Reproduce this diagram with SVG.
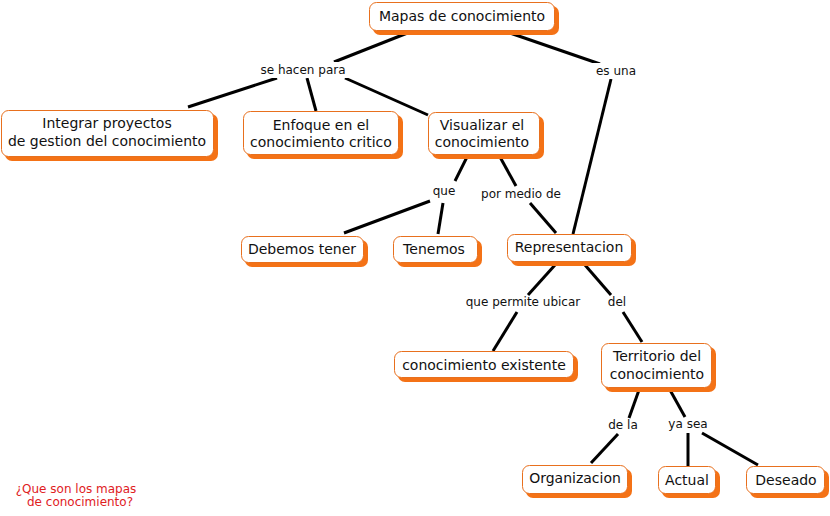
<svg xmlns="http://www.w3.org/2000/svg" width="830" height="516" viewBox="0 0 830 516">
<style>
.sh{fill:#f47216;}
.bx{fill:#fff;stroke:#e8701e;stroke-width:1;}
.t{font-family:Verdana,"DejaVu Sans",sans-serif;font-size:14px;fill:#111;text-anchor:middle;}
.l{font-family:Verdana,"DejaVu Sans",sans-serif;font-size:12px;fill:#111;text-anchor:middle;}
.c line{stroke:#000;stroke-width:3;}
.r{font-family:Verdana,"DejaVu Sans",sans-serif;font-size:12px;fill:#e0201e;text-anchor:middle;}
</style>
<rect width="830" height="516" fill="#fff"/>
<g class="c" id="connectors">
<line x1="410" y1="32" x2="334" y2="62"/>
<line x1="277" y1="78" x2="188" y2="107"/>
<line x1="307" y1="78" x2="316" y2="111"/>
<line x1="345" y1="78" x2="428" y2="115"/>
<line x1="510" y1="33" x2="600" y2="64"/>
<line x1="611" y1="79" x2="573" y2="234"/>
<line x1="467" y1="157" x2="455" y2="181"/>
<line x1="430" y1="201" x2="344" y2="233"/>
<line x1="443" y1="203" x2="438" y2="234"/>
<line x1="500" y1="157" x2="516" y2="186"/>
<line x1="530" y1="203" x2="556" y2="233"/>
<line x1="555" y1="265" x2="528" y2="295"/>
<line x1="517" y1="312" x2="493" y2="351"/>
<line x1="585" y1="265" x2="611" y2="295"/>
<line x1="623" y1="312" x2="642" y2="342"/>
<line x1="639" y1="390" x2="629" y2="418"/>
<line x1="618" y1="434" x2="591" y2="463"/>
<line x1="670" y1="390" x2="685" y2="417"/>
<line x1="688" y1="433" x2="688" y2="466"/>
<line x1="702" y1="433" x2="758" y2="465"/>
</g>
<g id="labels">
<rect x="254" y="62" width="98" height="16" fill="#fff"/>
<text class="l" x="303" y="74">se hacen para</text>
<rect x="590" y="63" width="52" height="16" fill="#fff"/>
<text class="l" x="616" y="75">es una</text>
<text class="l" x="444" y="195">que</text>
<text class="l" x="521" y="198">por medio de</text>
<text class="l" x="523" y="306">que permite ubicar</text>
<text class="l" x="617" y="306">del</text>
<text class="l" x="623" y="429">de la</text>
<text class="l" x="688" y="428">ya sea</text>
</g>
<g id="n1"><rect class="sh" x="373" y="6" width="186" height="29" rx="7"/><rect class="bx" x="369.5" y="2.5" width="185" height="28" rx="7"/><text class="t" x="462" y="21">Mapas de conocimiento</text></g>
<g id="n2"><rect class="sh" x="5" y="114" width="213" height="47" rx="7"/><rect class="bx" x="1.5" y="110.5" width="212" height="46" rx="7"/><text class="t" x="107" y="128">Integrar proyectos</text><text class="t" x="107" y="146">de gestion del conocimiento</text></g>
<g id="n3"><rect class="sh" x="247" y="115" width="156" height="44" rx="7"/><rect class="bx" x="243.5" y="111.5" width="155" height="43" rx="7"/><text class="t" x="321" y="130">Enfoque en el</text><text class="t" x="321" y="147">conocimiento critico</text></g>
<g id="n4"><rect class="sh" x="432" y="116" width="112" height="43" rx="7"/><rect class="bx" x="428.5" y="112.5" width="111" height="42" rx="7"/><text class="t" x="482" y="130">Visualizar el</text><text class="t" x="482" y="147">conocimiento</text></g>
<g id="n5"><rect class="sh" x="245" y="240" width="123" height="27" rx="7"/><rect class="bx" x="241.5" y="236.5" width="122" height="26" rx="7"/><text class="t" x="302" y="254">Debemos tener</text></g>
<g id="n6"><rect class="sh" x="397" y="240" width="85" height="27" rx="7"/><rect class="bx" x="393.5" y="236.5" width="84" height="26" rx="7"/><text class="t" x="434" y="254">Tenemos</text></g>
<g id="n7"><rect class="sh" x="511" y="238" width="125" height="28" rx="7"/><rect class="bx" x="507.5" y="234.5" width="124" height="27" rx="7"/><text class="t" x="569" y="252">Representacion</text></g>
<g id="n8"><rect class="sh" x="398" y="355" width="180" height="27" rx="7"/><rect class="bx" x="394.5" y="351.5" width="179" height="26" rx="7"/><text class="t" x="484" y="370">conocimiento existente</text></g>
<g id="n9"><rect class="sh" x="605" y="347" width="111" height="45" rx="7"/><rect class="bx" x="601.5" y="343.5" width="110" height="44" rx="7"/><text class="t" x="657" y="361">Territorio del</text><text class="t" x="657" y="379">conocimiento</text></g>
<g id="n10"><rect class="sh" x="526" y="469" width="106" height="29" rx="7"/><rect class="bx" x="522.5" y="465.5" width="105" height="28" rx="7"/><text class="t" x="575" y="483">Organizacion</text></g>
<g id="n11"><rect class="sh" x="662" y="470" width="58" height="28" rx="7"/><rect class="bx" x="658.5" y="466.5" width="57" height="27" rx="7"/><text class="t" x="687" y="485">Actual</text></g>
<g id="n12"><rect class="sh" x="750" y="470" width="79" height="28" rx="7"/><rect class="bx" x="746.5" y="466.5" width="78" height="27" rx="7"/><text class="t" x="786" y="485">Deseado</text></g>
<g id="note"><text class="r" x="76" y="493">¿Que son los mapas</text><text class="r" x="80" y="506">de conocimiento?</text></g>
</svg>
